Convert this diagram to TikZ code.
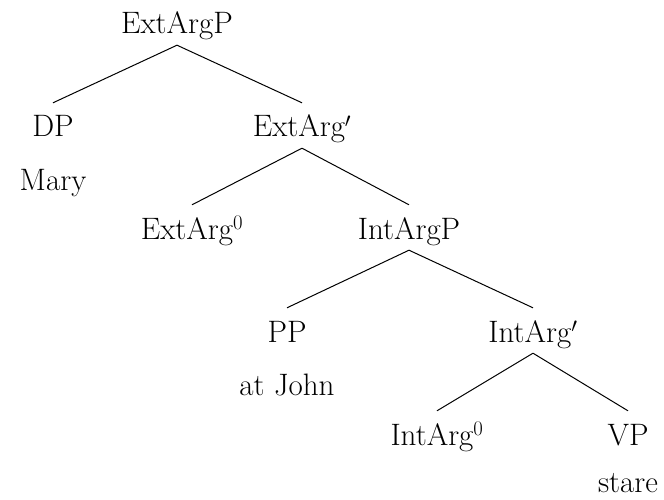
\documentclass[tikz,border=0pt]{standalone}
\begin{document}
\begin{tikzpicture}[x=1pt,y=-1pt,
  lbl/.style={anchor=base,inner xsep=0pt,inner ysep=6pt,text height=28pt,text depth=5pt,font=\fontsize{31}{37}\selectfont},
  word/.style={anchor=base,inner sep=0pt,font=\fontsize{31}{37}\selectfont},
  edge/.style={line width=1pt}]
\useasboundingbox (0,0) rectangle (664,500);
\node[lbl] (extargp) at (177,34) {ExtArgP};
\node[lbl] (dp) at (53,137) {DP};
\node[word] (mary) at (53,190) {Mary};
\node[lbl] (extargbar) at (302,137) {ExtArg$'$};
\node[lbl] (extarg0) at (192,239) {ExtArg$^0$};
\node[lbl] (intargp) at (409,239) {IntArgP};
\node[lbl] (pp) at (287,342) {PP};
\node[word] (atjohn) at (287,395) {at John};
\node[lbl] (intargbar) at (533,342) {IntArg$'$};
\node[lbl] (intarg0) at (437,445) {IntArg$^0$};
\node[lbl] (vp) at (628,445) {VP};
\node[word] (stare) at (628,492) {stare};
\draw[edge] (extargp.south) -- (dp.north);
\draw[edge] (extargp.south) -- (extargbar.north);
\draw[edge] (extargbar.south) -- (extarg0.north);
\draw[edge] (extargbar.south) -- (intargp.north);
\draw[edge] (intargp.south) -- (pp.north);
\draw[edge] (intargp.south) -- (intargbar.north);
\draw[edge] (intargbar.south) -- (intarg0.north);
\draw[edge] (intargbar.south) -- (vp.north);
\end{tikzpicture}
\end{document}
